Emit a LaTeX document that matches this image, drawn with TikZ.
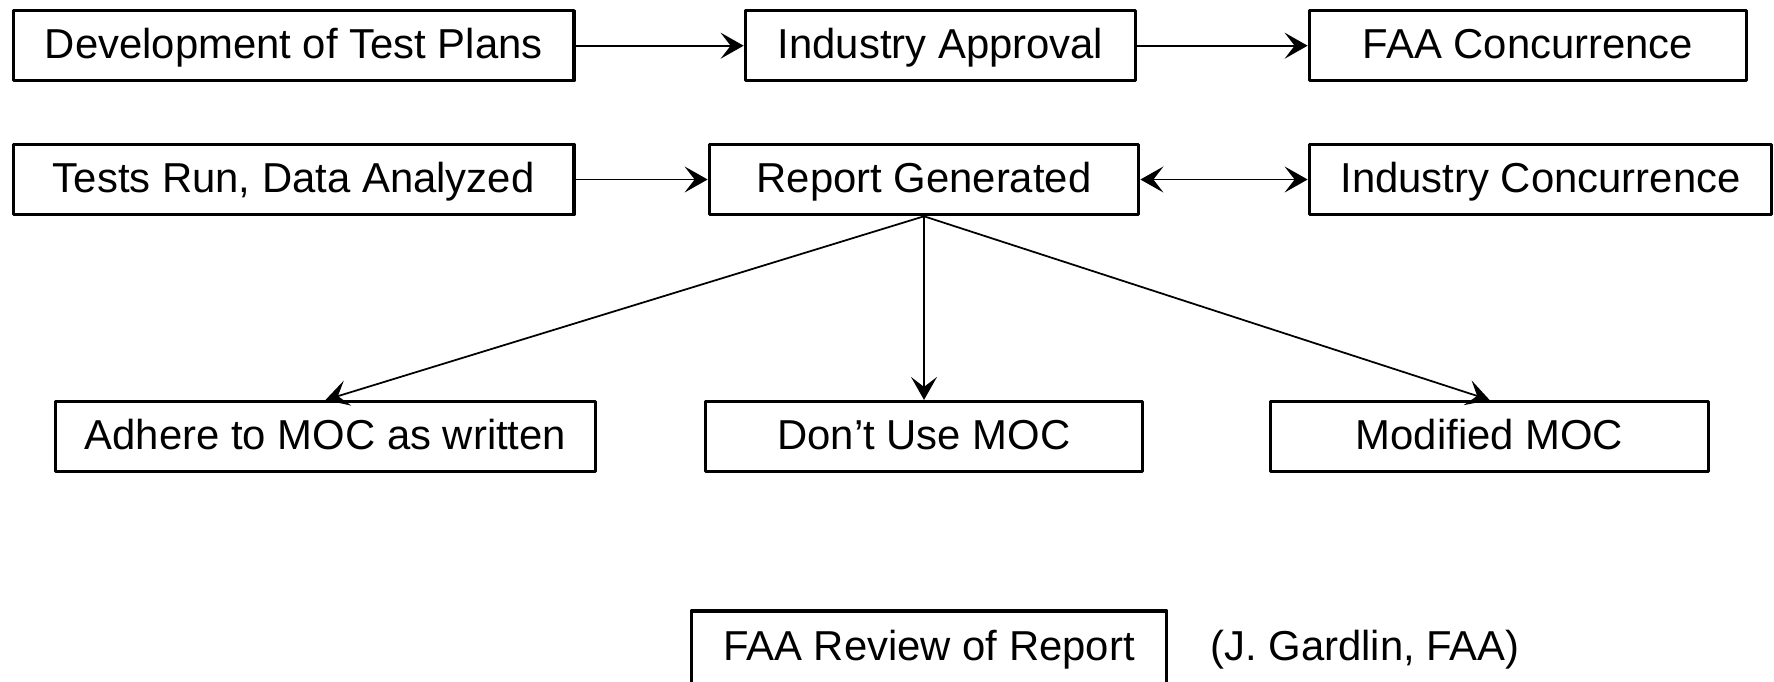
\documentclass[tikz,border=0pt]{standalone}
\usepackage{fontspec}
\setmainfont{Liberation Sans}
\usetikzlibrary{arrows.meta}
\begin{document}
\begin{tikzpicture}[x=0.01cm, y=-0.01cm, font=\fontsize{11.9pt}{14pt}\selectfont, line join=round,
		>={Stealth[length=0.23cm, width=0.26cm, inset=0.1cm]},
		flowbox/.style={draw, line width=1pt, minimum height=0.70cm, inner sep=0pt, text height=0.9em, text depth=0.18em},
		lbl/.style={inner sep=0pt, text height=0.9em, text depth=0.18em},
		arr/.style={line width=0.5pt, ->}]
	\useasboundingbox (0,0) rectangle (1774,681);
	% first row
	\node[flowbox, minimum width=5.60cm] (dev) at (293.7,45.7) {Development of Test Plans};
	\node[flowbox, minimum width=3.90cm] (approval) at (940.5,45.7) {Industry Approval};
	\node[flowbox, minimum width=4.37cm] (faaconc) at (1528,45.7) {FAA Concurrence};
	% second row
	\node[flowbox, minimum width=5.60cm] (tests) at (293.7,179.5) {Tests Run, Data Analyzed};
	\node[flowbox, minimum width=4.29cm] (report) at (924,179.5) {Report Generated};
	\node[flowbox, minimum width=4.62cm] (indconc) at (1540.5,179.5) {Industry Concurrence};
	% outcomes
	\node[flowbox, minimum width=5.40cm] (adhere) at (325.5,436.7) {Adhere to MOC as written};
	\node[flowbox, minimum width=4.37cm] (nouse) at (924,436.7) {Don’t Use MOC};
	\node[flowbox, minimum width=4.38cm] (modified) at (1489.5,436.7) {Modified MOC};
	% bottom
	\node[flowbox, minimum width=4.75cm, minimum height=0.74cm] (review) at (929,648) {FAA Review of Report};
	\node[lbl] (credit) at (1365,648) {(J. Gardlin, FAA)};
	\draw[arr] (dev) -- (approval);
	\draw[arr] (approval) -- (faaconc);
	\draw[arr] (tests) -- (report);
	\draw[arr, <->] (report) -- (indconc);
	\foreach \t in {adhere,nouse,modified}
		\draw[arr] (report.south) -- (\t.north);
\end{tikzpicture}
\end{document}
